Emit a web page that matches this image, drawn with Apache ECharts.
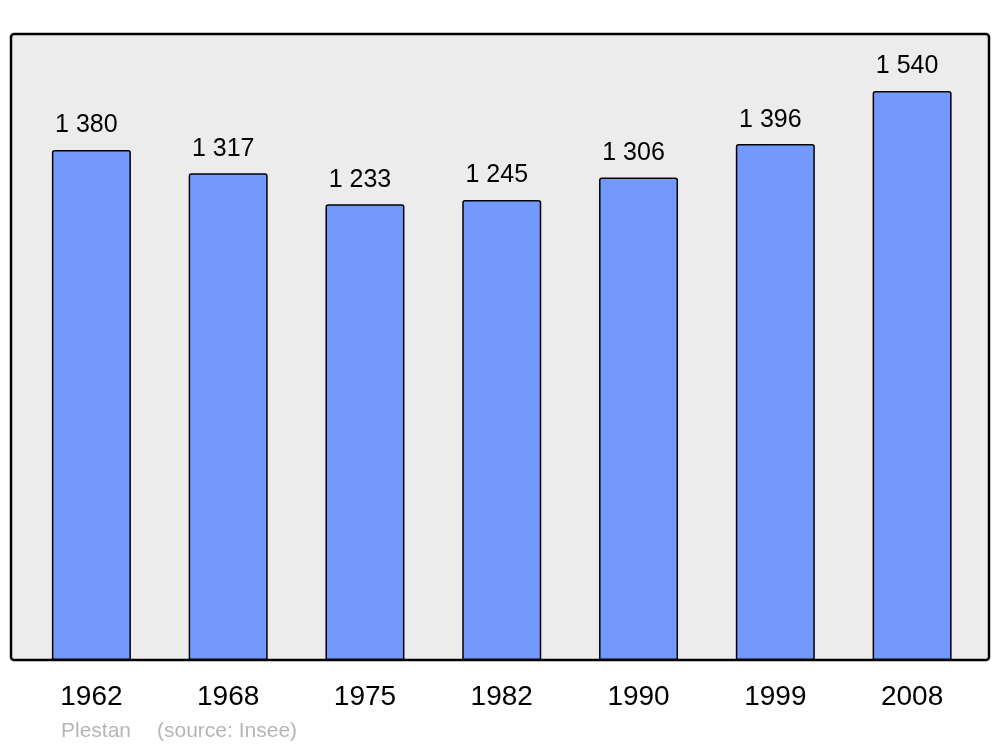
<!DOCTYPE html>
<html><head><meta charset="utf-8">
<script src="https://cdn.jsdelivr.net/npm/echarts@6/dist/echarts.min.js"></script>
<style>html,body{margin:0;padding:0;background:#fff}#c{width:1000px;height:747px}</style>
</head><body><div id="c"></div>
<script>
const years = ['1962','1968','1975','1982','1990','1999','2008'];
const population = [1380,1317,1233,1245,1306,1396,1540];
const footnoteName = 'Plestan';
const footnoteSource = '(source: Insee)';
const yMax = 1694;

const chart = echarts.init(document.getElementById('c'), null, {renderer:'canvas'});
const fmt = v => String(v).replace(/\B(?=(\d{3})+(?!\d))/g, ' ');
const FONT = '"Liberation Sans", Arial, sans-serif';
chart.setOption({
  animation:false,
  backgroundColor:'#ffffff',
  graphic:[
    {type:'rect', z:-10, shape:{x:11,y:34,width:978,height:626,r:3},
     style:{fill:'#ececec', stroke:'#000', lineWidth:2.5}},
    {type:'text', left:61, top:721, style:{text:footnoteName, fill:'#b5b5b5', font:'21px ' + FONT}},
    {type:'text', left:157, top:721, style:{text:footnoteSource, fill:'#b5b5b5', font:'21px ' + FONT}}
  ],
  grid:{left:23, right:19.5, top:34, bottom:87},
  xAxis:{type:'category', data:years,
    axisLine:{show:false}, axisTick:{show:false},
    axisLabel:{margin:23, fontSize:28, color:'#000', fontFamily:FONT}},
  yAxis:{type:'value', min:0, max:yMax, show:false, splitLine:{show:false}},
  series:[{type:'bar', data:population, barWidth:79,
    itemStyle:{color:'#7399ff', borderColor:'#000', borderWidth:1.5, borderRadius:[2,2,0,0]},
    label:{show:true, position:'top', distance:12, offset:[-5,0], fontSize:25, color:'#000',
      fontFamily:FONT, formatter:p=>fmt(p.value)}}]
});
</script></body></html>
